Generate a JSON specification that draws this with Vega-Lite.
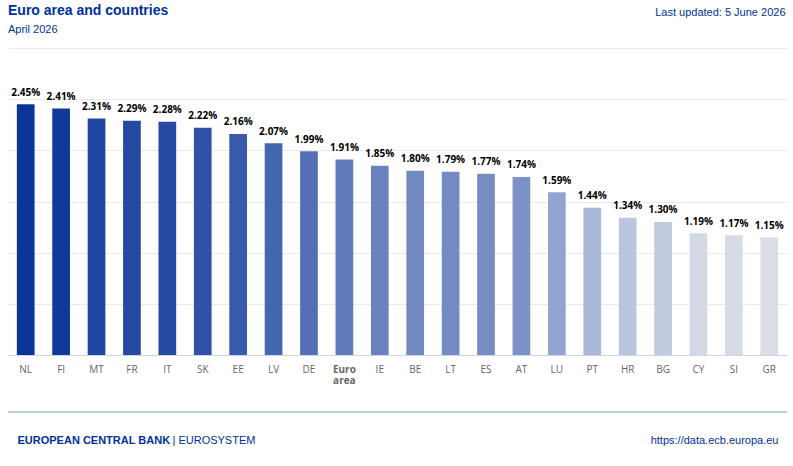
{
  "$schema": "https://vega.github.io/schema/vega-lite/v6.json",
  "autosize": {"type": "none"},
  "width": 779,
  "height": 307,
  "padding": {"left": 8, "top": 48, "right": 6, "bottom": 111},
  "background": "white",
  "config": {"view": {"stroke": null}, "font": "Liberation Sans"},
  "title": {
    "text": "Euro area and countries",
    "subtitle": "April 2026",
    "anchor": "start",
    "frame": "group",
    "font": "Liberation Sans",
    "fontSize": 14,
    "fontWeight": "bold",
    "color": "#003299",
    "subtitleFont": "Liberation Sans",
    "subtitleFontSize": 11,
    "subtitleColor": "#003299",
    "subtitlePadding": 6,
    "offset": 0,
    "dy": 29
  },
  "data": {
    "values": [
      {"country": "NL", "value": 2.45},
      {"country": "FI", "value": 2.41},
      {"country": "MT", "value": 2.31},
      {"country": "FR", "value": 2.29},
      {"country": "IT", "value": 2.28},
      {"country": "SK", "value": 2.22},
      {"country": "EE", "value": 2.16},
      {"country": "LV", "value": 2.07},
      {"country": "DE", "value": 1.99},
      {"country": "Euro area", "value": 1.91},
      {"country": "IE", "value": 1.85},
      {"country": "BE", "value": 1.80},
      {"country": "LT", "value": 1.79},
      {"country": "ES", "value": 1.77},
      {"country": "AT", "value": 1.74},
      {"country": "LU", "value": 1.59},
      {"country": "PT", "value": 1.44},
      {"country": "HR", "value": 1.34},
      {"country": "BG", "value": 1.30},
      {"country": "CY", "value": 1.19},
      {"country": "SI", "value": 1.17},
      {"country": "GR", "value": 1.15}
    ]
  },
  "resolve": {"axis": {"x": "independent", "y": "independent"}},
  "layer": [
    {
      "mark": {"type": "bar"},
      "encoding": {
        "x": {
          "field": "country",
          "type": "nominal",
          "sort": null,
          "scale": {"paddingInner": 0.5, "paddingOuter": 0.25},
          "axis": {
            "orient": "bottom",
            "labelAngle": 0,
            "ticks": false,
            "domainColor": "#ccd6eb",
            "domainWidth": 1,
            "labelFont": "Open Sans",
            "labelFontSize": 10,
            "labelColor": "#666666",
            "labelPadding": 9,
            "labelLineHeight": 11,
            "labelExpr": "datum.value == 'Euro area' ? ['Euro', 'area'] : datum.value",
            "labelFontWeight": {"condition": {"test": "datum.value == 'Euro area'", "value": "bold"}, "value": "normal"},
            "title": "EUROPEAN CENTRAL BANK",
            "titleFont": "Liberation Sans",
            "titleFontSize": 11,
            "titleFontWeight": "bold",
            "titleColor": "#003299",
            "titleAlign": "left",
            "titleAngle": 0,
            "titleBaseline": "alphabetic",
            "titleX": 9,
            "titleY": 88
          }
        },
        "y": {
          "field": "value",
          "type": "quantitative",
          "scale": {"domain": [0, 3], "nice": false},
          "axis": {
            "orient": "left",
            "values": [0.5, 1, 1.5, 2, 2.5, 3],
            "grid": true,
            "gridColor": "#e9e9e9",
            "labels": false,
            "ticks": false,
            "domain": false,
            "title": "| EUROSYSTEM",
            "titleFont": "Liberation Sans",
            "titleFontSize": 11,
            "titleFontWeight": "normal",
            "titleColor": "#003299",
            "titleAngle": 0,
            "titleAlign": "left",
            "titleBaseline": "alphabetic",
            "titleX": 164,
            "titleY": 395
          }
        },
        "color": {
          "field": "value",
          "type": "quantitative",
          "scale": {"domain": [1.15, 2.45], "range": ["#d9dee9", "#0b3498"], "interpolate": "rgb"},
          "legend": null
        }
      }
    },
    {
      "transform": [{"calculate": "format(datum.value, '.2f') + '%'", "as": "label"}],
      "mark": {"type": "text", "font": "Open Sans", "fontSize": 10, "fontWeight": "bold", "color": "#000000", "baseline": "alphabetic", "dy": -8.5},
      "encoding": {
        "x": {
          "field": "country",
          "type": "nominal",
          "sort": null,
          "axis": {
            "orient": "top",
            "labels": false,
            "ticks": false,
            "domain": false,
            "grid": false,
            "title": "Last updated: 5 June 2026",
            "titleFont": "Liberation Sans",
            "titleFontSize": 11,
            "titleFontWeight": "normal",
            "titleColor": "#003299",
            "titleAngle": 0,
            "titleAlign": "right",
            "titleBaseline": "alphabetic",
            "titleX": 777,
            "titleY": -33
          }
        },
        "y": {
          "field": "value",
          "type": "quantitative",
          "axis": {
            "orient": "right",
            "labels": false,
            "ticks": false,
            "domain": false,
            "grid": false,
            "title": "https://data.ecb.europa.eu",
            "titleFont": "Liberation Sans",
            "titleFontSize": 11,
            "titleFontWeight": "normal",
            "titleColor": "#003299",
            "titleAngle": 0,
            "titleAlign": "right",
            "titleBaseline": "alphabetic",
            "titleX": -9,
            "titleY": 395
          }
        },
        "text": {"field": "label", "type": "nominal"}
      }
    },
    {
      "data": {"values": [{"line": "footer"}]},
      "mark": {"type": "rule", "stroke": "#c3cde2", "strokeWidth": 2},
      "encoding": {
        "y": {"datum": -0.557, "type": "quantitative", "axis": null}
      }
    }
  ]
}
